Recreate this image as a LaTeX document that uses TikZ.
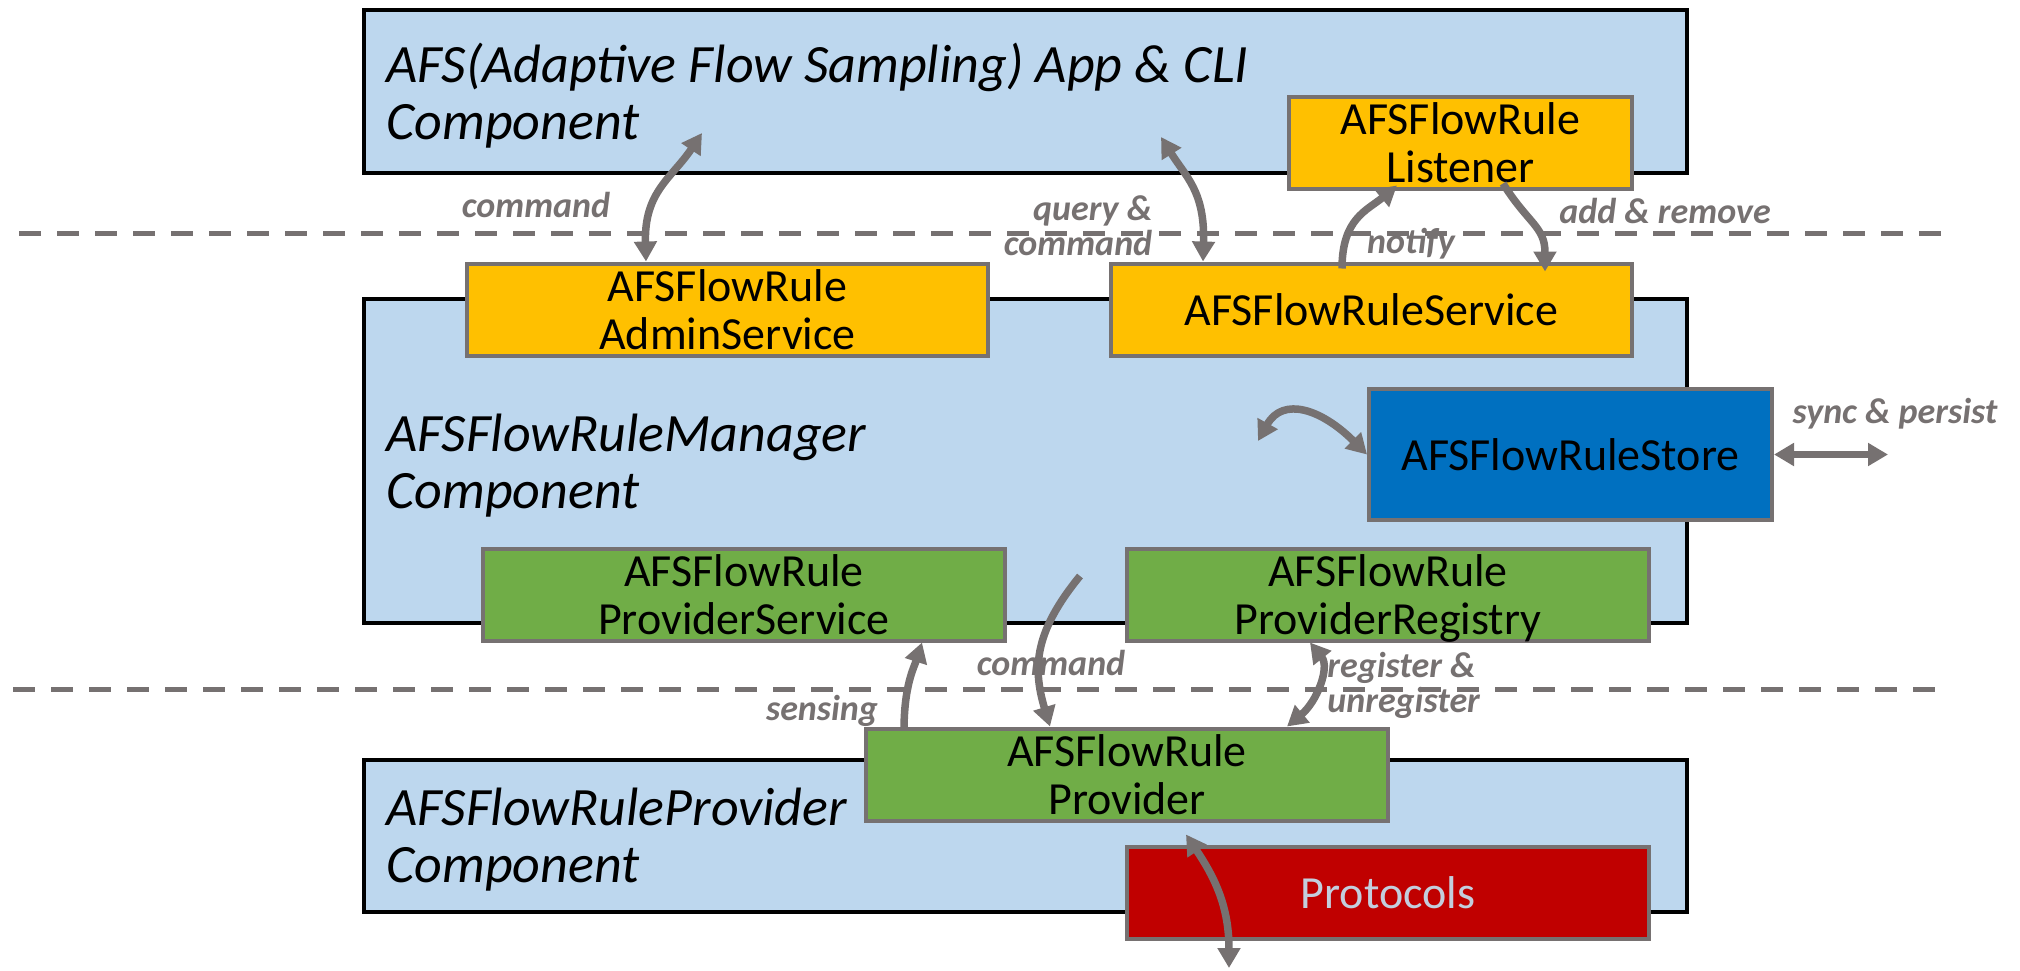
\documentclass[tikz,border=0pt]{standalone}
\usepackage{fontspec}
\setmainfont{Carlito}
\usepackage{xcolor}
\usetikzlibrary{arrows.meta}

\definecolor{hellblau}{HTML}{BDD7EE}
\definecolor{grau}{HTML}{767171}
\definecolor{dienstgelb}{HTML}{FFC000}
\definecolor{gruen}{HTML}{70AD47}
\definecolor{speicherblau}{HTML}{0070C0}
\definecolor{protorot}{HTML}{C00000}
\definecolor{protoschrift}{HTML}{C3CEDD}

\begin{document}
\begin{tikzpicture}[x=0.5pt, y=-0.5pt, >={Triangle[length=10pt,width=11pt]},
	komponente/.style={draw=black, line width=2pt, fill=hellblau, inner sep=0pt},
	kasten/.style={draw=grau, line width=2pt, inner sep=0pt, align=center, text depth=0pt, font=\fontsize{23}{24}\selectfont},
	titel/.style={anchor=base west, inner sep=0pt, align=left, font=\fontsize{27}{28.5}\selectfont\itshape},
	pfeil/.style={draw=grau, line width=3.75pt},
	beschr/.style={text=grau, inner sep=0pt, font=\fontsize{18}{17.5}\selectfont\bfseries\itshape},
	trenn/.style={draw=grau, line width=2.5pt, dash pattern=on 11pt off 8pt}]
	
	\useasboundingbox (0,0) rectangle (2020,970);
	
	% Komponenten
	\node[komponente, minimum width=661.5pt, minimum height=81.5pt](app) at (1025.5,91.5) {};
	\node[komponente, minimum width=661.5pt, minimum height=162pt](manager) at (1025.5,461) {};
	\node[komponente, minimum width=661.5pt, minimum height=76pt](provcomp) at (1025.5,836) {};
	
	% Basislinie = letzte Zeile
	\node[titel](app_titel) at (386,139) {AFS(Adaptive Flow Sampling) App \& CLI\\Component};
	\node[titel](manager_titel) at (386,508) {AFSFlowRuleManager\\Component};
	\node[titel](provcomp_titel) at (386,882) {AFSFlowRuleProvider\\Component};
	
	% Trennlinien
	\draw[trenn] (19,233) -- (1945,233);
	\draw[trenn] (13,689) -- (1938,689);
	
	% Dienste
	\node[kasten, fill=dienstgelb, minimum width=260.5pt, minimum height=46pt](admin) at (727.5,309.5) {AFSFlowRule\\AdminService};
	\node[kasten, fill=dienstgelb, minimum width=260.5pt, minimum height=46pt](service) at (1371.5,309.5) {AFSFlowRuleService};
	\node[kasten, fill=dienstgelb, minimum width=171.5pt, minimum height=46pt](listener) at (1460.5,142.5) {AFSFlowRule\\Listener};
	\node[kasten, fill=speicherblau, minimum width=201.5pt, minimum height=65.5pt](store) at (1570.5,454.5) {AFSFlowRuleStore};
	\node[kasten, fill=gruen, minimum width=261pt, minimum height=46pt](provservice) at (744,594.5) {AFSFlowRule\\ProviderService};
	\node[kasten, fill=gruen, minimum width=261pt, minimum height=46pt](registry) at (1388,594.5) {AFSFlowRule\\ProviderRegistry};
	\node[kasten, fill=gruen, minimum width=261pt, minimum height=46pt](provider) at (1127,774.5) {AFSFlowRule\\Provider};
	\node[kasten, fill=protorot, text=protoschrift, minimum width=261pt, minimum height=46pt](protocols) at (1388,893) {Protocols};
	
	% freie Enden
	\coordinate(app_cmd) at (702,133);
	\coordinate(app_query) at (1161,137);
	\coordinate(mgr_store) at (1258,441);
	\coordinate(sync_ende) at (1888,454.5);
	\coordinate(mgr_cmd) at (1080,576);
	\coordinate(proto_ende) at (1229,968);
	
	% Pfeile oben
	\draw[pfeil, <->]([xshift=-40.75pt]admin.north) .. controls +(-2,-70) and +(-30,45) .. (app_cmd);
	\draw[pfeil, <->](app_query) .. controls +(25,40) and +(2,-70) .. ([xshift=-84.25pt]service.north);
	\draw[pfeil, ->]([xshift=-14.75pt,yshift=-3.5pt]service.north) .. controls +(0,-50) and +(-30,25) .. ([xshift=-31.75pt,yshift=2.5pt]listener.south);
	\draw[pfeil, ->]([xshift=21.25pt,yshift=3.5pt]listener.south) .. controls +(25,40) and +(0,-45) .. ([xshift=86.75pt,yshift=-5pt]service.north);
	
	% Pfeile Mitte
	\draw[pfeil, <->](mgr_store) .. controls +(25,-45) and +(-45,-45) .. (store.west);
	\draw[pfeil, <->](store.east) -- (sync_ende);
	
	% Pfeile unten
	\draw[pfeil, ->](mgr_cmd) .. controls +(-45,55) and +(-18,-60) .. ([xshift=-38.5pt]provider.north);
	\draw[pfeil, ->]([xshift=-111.5pt,yshift=-2pt]provider.north) .. controls +(0,-45) and +(-8,25) .. ([xshift=89pt]provservice.south);
	\draw[pfeil, <->]([xshift=-39pt]registry.south) .. controls +(20,25) and +(30,-25) .. ([xshift=80pt]provider.north);
	\draw[pfeil, <->]([xshift=29.5pt,yshift=-6pt]provider.south) .. controls +(30,45) and +(0,-60) .. (proto_ende);
	
	% Beschriftungen
	\node[beschr](l_cmd) at (536,205) {command};
	\node[beschr, align=right](l_query) at (1078,226) {query \&\\command};
	\node[beschr](l_notify) at (1411,244) {notify};
	\node[beschr](l_addrem) at (1665,211) {add \& remove};
	\node[beschr](l_sync) at (1895,414) {sync \& persist};
	\node[beschr](l_cmd2) at (1051,663) {command};
	\node[beschr](l_sensing) at (822,711) {sensing};
	\node[beschr, align=left, anchor=west](l_register) at (1327,685) {register \&\\unregister};
\end{tikzpicture}
\end{document}
